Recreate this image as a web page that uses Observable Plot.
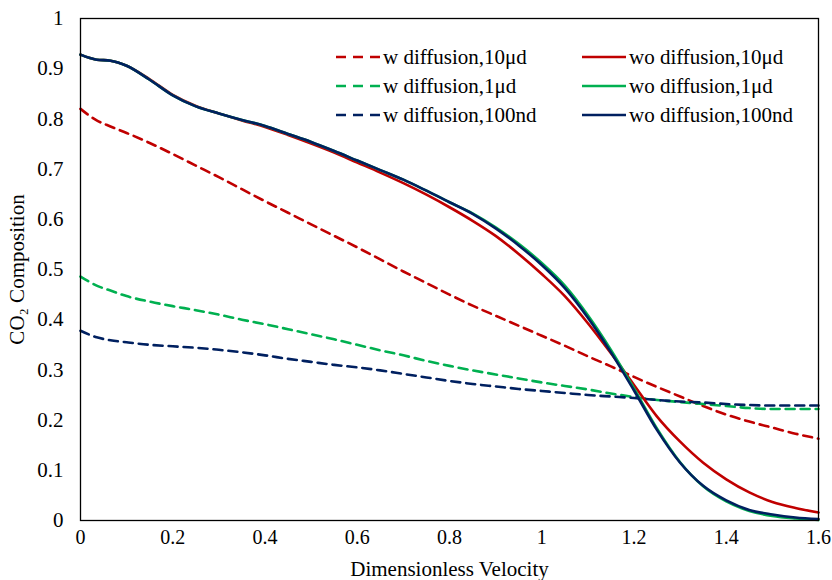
<!DOCTYPE html>
<html>
<head>
<meta charset="utf-8">
<script src="https://cdn.jsdelivr.net/npm/d3@7"></script>
<script src="https://cdn.jsdelivr.net/npm/@observablehq/plot@0.6"></script>
<style>
  html, body { margin: 0; padding: 0; background: #fff; }
  #wrap { position: relative; width: 832px; height: 580px; font-family: "Liberation Serif", Tinos, "Times New Roman", "DejaVu Serif", serif; }
  .leg { position: absolute; display: flex; align-items: center; font-size: 21px; color: #000; white-space: nowrap; }
  .leg svg { margin-right: 3px; }
</style>
</head>
<body>
<div id="wrap"></div>
<script>
// x positions (dimensionless velocity)
const xs = [0, 0.035, 0.065, 0.1, 0.15, 0.2, 0.25, 0.3, 0.35, 0.4, 0.45, 0.5, 0.55, 0.6, 0.65, 0.7, 0.75, 0.8,
            0.85, 0.9, 0.95, 1.0, 1.05, 1.1, 1.15, 1.2, 1.25, 1.3, 1.35, 1.4, 1.45, 1.5, 1.55, 1.6];

// with diffusion (dashed)
const wDiff10ud  = [0.820, 0.797, 0.785, 0.772, 0.752, 0.730, 0.707, 0.684, 0.660, 0.636, 0.613, 0.590, 0.567, 0.544, 0.520, 0.496, 0.473, 0.450,
                    0.428, 0.408, 0.388, 0.368, 0.348, 0.327, 0.307, 0.286, 0.266, 0.247, 0.228, 0.211, 0.197, 0.185, 0.173, 0.163];
const wDiff1ud   = [0.486, 0.468, 0.458, 0.447, 0.436, 0.427, 0.419, 0.410, 0.400, 0.391, 0.381, 0.371, 0.361, 0.350, 0.339, 0.329, 0.318, 0.308,
                    0.299, 0.291, 0.283, 0.275, 0.268, 0.261, 0.253, 0.246, 0.240, 0.236, 0.232, 0.228, 0.224, 0.222, 0.222, 0.222];
const wDiff100nd = [0.378, 0.365, 0.359, 0.355, 0.350, 0.347, 0.344, 0.340, 0.335, 0.329, 0.322, 0.316, 0.310, 0.305, 0.299, 0.292, 0.285, 0.278,
                    0.272, 0.267, 0.262, 0.258, 0.254, 0.250, 0.247, 0.244, 0.240, 0.237, 0.235, 0.232, 0.230, 0.229, 0.229, 0.229];

// without diffusion (solid)
const woDiff10ud  = [0.928, 0.918, 0.916, 0.906, 0.879, 0.848, 0.826, 0.811, 0.797, 0.784, 0.768, 0.751, 0.733, 0.713, 0.693, 0.672, 0.649, 0.624,
                     0.597, 0.567, 0.531, 0.491, 0.447, 0.393, 0.333, 0.270, 0.207, 0.157, 0.115, 0.082, 0.056, 0.037, 0.025, 0.016];
const woDiff1ud   = [0.928, 0.918, 0.916, 0.906, 0.878, 0.847, 0.825, 0.811, 0.798, 0.786, 0.770, 0.754, 0.736, 0.717, 0.698, 0.679, 0.657, 0.634,
                     0.612, 0.584, 0.551, 0.513, 0.468, 0.409, 0.340, 0.263, 0.183, 0.116, 0.068, 0.038, 0.019, 0.009, 0.004, 0.001];
const woDiff100nd = [0.928, 0.918, 0.916, 0.906, 0.878, 0.847, 0.825, 0.811, 0.798, 0.786, 0.770, 0.754, 0.736, 0.717, 0.698, 0.679, 0.657, 0.634,
                     0.611, 0.582, 0.548, 0.509, 0.463, 0.404, 0.335, 0.259, 0.180, 0.115, 0.069, 0.040, 0.021, 0.012, 0.006, 0.003];

const seriesNames = ["w diffusion,10μd", "w diffusion,1μd", "w diffusion,100nd",
                     "wo diffusion,10μd", "wo diffusion,1μd", "wo diffusion,100nd"];
const seriesValues = [wDiff10ud, wDiff1ud, wDiff100nd, woDiff10ud, woDiff1ud, woDiff100nd];
const seriesColors = ["#C00000", "#00B050", "#002060", "#C00000", "#00B050", "#002060"];
const seriesDashed = [true, true, true, false, false, false];

const xTicks = [0, 0.2, 0.4, 0.6, 0.8, 1, 1.2, 1.4, 1.6];
const yTicks = [0, 0.1, 0.2, 0.3, 0.4, 0.5, 0.6, 0.7, 0.8, 0.9, 1];

const rows = [];
seriesNames.forEach((name, i) => {
  seriesValues[i].forEach((v, j) => rows.push({series: name, x: xs[j], y: v, dashed: seriesDashed[i]}));
});

const fmt = d => String(+d.toFixed(1));
const serif = '"Liberation Serif", Tinos, "Times New Roman", "DejaVu Serif", serif';

const chart = Plot.plot({
  width: 832,
  height: 580,
  marginLeft: 80,
  marginRight: 14,
  marginTop: 18,
  marginBottom: 60,
  style: {fontFamily: serif, fontSize: "21px", background: "#fff", color: "#000"},
  x: {domain: [0, 1.6]},
  y: {domain: [0, 1]},
  color: {domain: seriesNames, range: seriesColors},
  marks: [
    Plot.axisX({ticks: xTicks, tickSize: 0, tickPadding: 9, tickFormat: fmt, label: null, fontSize: 20, fontFamily: serif}),
    Plot.axisX({ticks: [], tickSize: 0, label: "Dimensionless Velocity", labelArrow: "none", labelAnchor: "center", labelOffset: 55, fontSize: 21, fontFamily: serif}),
    Plot.axisY({ticks: yTicks, tickSize: 0, tickPadding: 17, tickFormat: fmt, label: "CO₂ Composition", labelArrow: "none", labelAnchor: "center", labelOffset: 71, fontSize: 21, fontFamily: serif}),
    Plot.line(rows.filter(d => d.dashed), {x: "x", y: "y", z: "series", stroke: "series", strokeWidth: 2.6, strokeDasharray: "9,6", curve: "monotone-x"}),
    Plot.line(rows.filter(d => !d.dashed), {x: "x", y: "y", z: "series", stroke: "series", strokeWidth: 2.6, curve: "monotone-x"}),
    Plot.frame({stroke: "#000", strokeWidth: 1.3})
  ]
});

const wrap = document.getElementById("wrap");
wrap.appendChild(chart);

// legend overlay
const legendPos = [[336, 57], [336, 86], [336, 115], [582, 57], [582, 86], [582, 115]];
seriesNames.forEach((name, i) => {
  const div = document.createElement("div");
  div.className = "leg";
  div.style.left = legendPos[i][0] + "px";
  div.style.top = (legendPos[i][1] - 13) + "px";
  div.style.height = "26px";
  const dash = seriesDashed[i] ? 'stroke-dasharray="10,7"' : "";
  div.innerHTML = `<svg width="44" height="6"><line x1="0" y1="3" x2="44" y2="3" stroke="${seriesColors[i]}" stroke-width="2.6" ${dash}/></svg><span>${name}</span>`;
  wrap.appendChild(div);
});
</script>
</body>
</html>
